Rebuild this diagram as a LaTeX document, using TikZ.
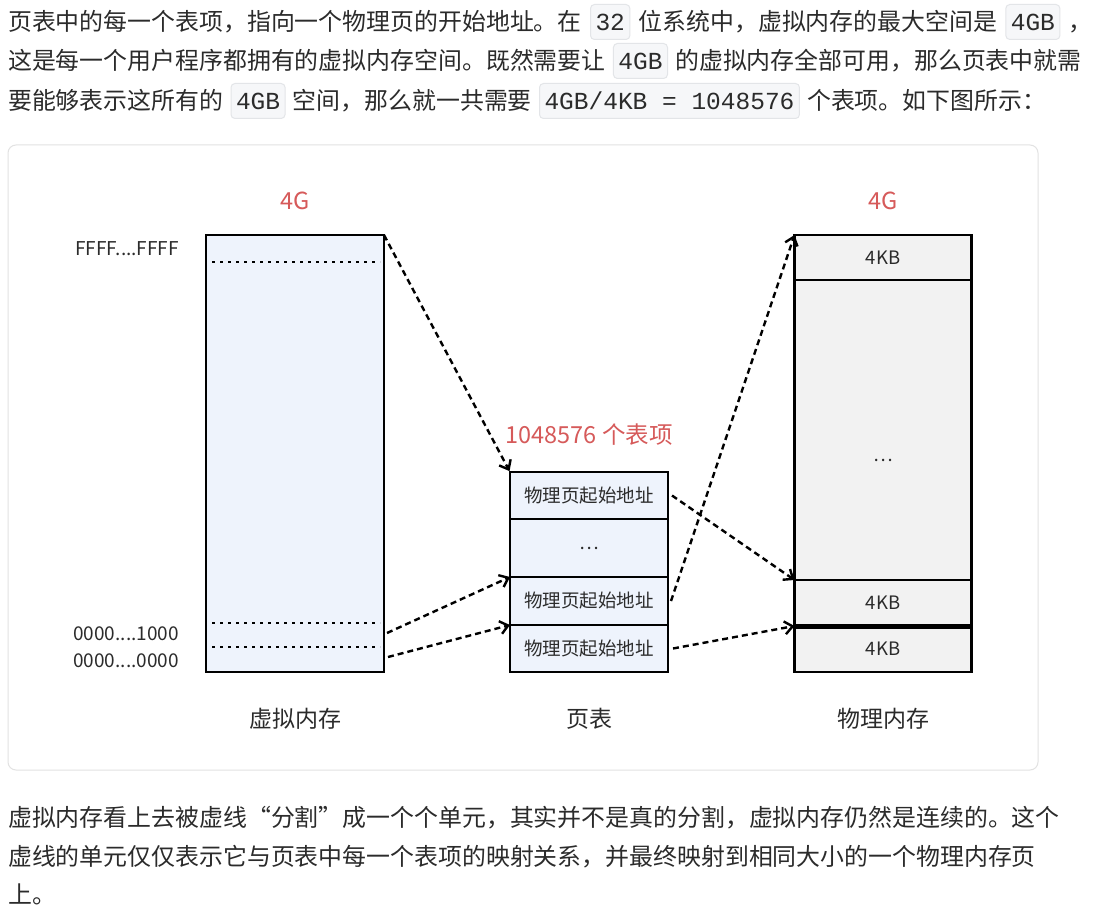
\documentclass[tikz,border=0pt]{standalone}
\usepackage{fontspec}
\usetikzlibrary{positioning,calc,arrows.meta}
\newfontfamily\cjk{Noto Sans CJK SC}
\newfontfamily\codefont{Liberation Mono}
\definecolor{bodytext}{HTML}{2B2B2B}
\definecolor{codebg}{HTML}{F6F7F9}
\definecolor{codeline}{HTML}{E3E5E8}
\definecolor{framegray}{HTML}{E2E2E2}
\definecolor{vfill}{HTML}{EEF3FC}
\definecolor{pfill}{HTML}{F2F2F2}
\definecolor{labelred}{HTML}{D65A5A}

\begin{document}
\begin{tikzpicture}[x=1pt,y=-1pt,>={Straight Barb[length=8pt,width=13pt]},
  txt/.style={anchor=base west,inner sep=0pt,text=bodytext,font=\cjk\fontsize{23.9}{28}\selectfont},
  code/.style={fill=codebg,draw=codeline,line width=1pt,rounded corners=4pt,inner xsep=5pt,inner ysep=6.5pt,
    text height=20pt,text depth=2pt,text=bodytext,font=\codefont\fontsize{24.5}{28}\selectfont},
  cell/.style={draw=black,line width=2.8pt,outer sep=0pt,inner sep=0pt,text=bodytext,font=\cjk\fontsize{18.5}{22}\selectfont},
  ptcell/.style={cell,fill=vfill,minimum width=158pt},
  pmcell/.style={cell,fill=pfill,minimum width=177pt},
  redlbl/.style={text=labelred,font=\cjk\fontsize{23.5}{28}\selectfont},
  caption/.style={text=bodytext,font=\cjk\fontsize{23}{28}\selectfont},
  addr/.style={anchor=east,inner sep=0pt,text=bodytext,font=\cjk\fontsize{19}{22}\selectfont},
  arr/.style={->,line width=2.4pt,dash pattern=on 6pt off 4pt},
  dots/.style={line width=2.5pt,dash pattern=on 2.5pt off 5.5pt}]
\fill[white] (0,0) rectangle (1095,909);
\useasboundingbox (0,0) rectangle (1095,909);

% text above
\node[txt] (LineA1) at (8,31) {页表中的每一个表项，指向一个物理页的开始地址。在};
\node[code,base right=8pt of LineA1] (CodeA1) {32};
\node[txt,base right=8pt of CodeA1] (LineA2) {位系统中，虚拟内存的最大空间是};
\node[code,base right=8pt of LineA2] (CodeA2) {4GB};
\node[txt,base right=8pt of CodeA2] (LineA3) {，};
\node[txt] (LineB1) at (8,70) {这是每一个用户程序都拥有的虚拟内存空间。既然需要让};
\node[code,base right=7pt of LineB1] (CodeB1) {4GB};
\node[txt,base right=7pt of CodeB1] (LineB2) {的虚拟内存全部可用，那么页表中就需};
\node[txt] (LineC1) at (8,110) {要能够表示这所有的};
\node[code,base right=7pt of LineC1] (CodeC1) {4GB};
\node[txt,base right=7pt of CodeC1] (LineC2) {空间，那么就一共需要};
\node[code,base right=7pt of LineC2] (CodeC2) {4GB/4KB = 1048576};
\node[txt,base right=7pt of CodeC2] (LineC3) {个表项。如下图所示：};

% figure
\draw[framegray,line width=1pt,rounded corners=8pt] (8,145) rectangle (1038,770);

\node[cell,fill=vfill,minimum width=178pt,minimum height=437pt] (VMem) at (295,453.5) {};
\draw[dots] ($(VMem.north west)+(6,27)$) -- ($(VMem.north east)+(-4,27)$);
\draw[dots] ($(VMem.south west)+(6,-49)$) -- ($(VMem.south east)+(-4,-49)$);
\draw[dots] ($(VMem.south west)+(6,-25)$) -- ($(VMem.south east)+(-4,-25)$);
\node[addr] (AddrTop) at (179,249) {FFFF....FFFF};
\node[addr] (AddrOne) at (179,634) {0000....1000};
\node[addr] (AddrZero) at (179,661) {0000....0000};

\node[ptcell,minimum height=47pt] (PT1) at (589,495.5) {物理页起始地址};
\node[ptcell,minimum height=58pt,below=0pt of PT1] (PT2) {…};
\node[ptcell,minimum height=48pt,below=0pt of PT2] (PT3) {物理页起始地址};
\node[ptcell,minimum height=47pt,below=0pt of PT3] (PT4) {物理页起始地址};

\node[pmcell,minimum height=45pt] (PM1) at (883,257.5) {4KB};
\node[pmcell,minimum height=300pt,below=0pt of PM1] (PM2) {};
\node[pmcell,minimum height=46pt,below=0pt of PM2] (PM3) {4KB};
\node[pmcell,minimum height=46pt,below=0pt of PM3] (PM4) {4KB};
\draw[line width=5pt] (PM3.south west) -- (PM3.south east);
\node[cell,draw=none] (PMDots) at ($(PM2.center)+(0,30)$) {…};

\node[redlbl] (VTitle) at (295,201) {4G};
\node[redlbl] (PTTitle) at (589,435) {1048576 个表项};
\node[redlbl] (PTitle) at (883,201) {4G};
\node[caption] (VName) at (295,719) {虚拟内存};
\node[caption] (PTName) at (589,719) {页表};
\node[caption] (PName) at (883,719) {物理内存};

\coordinate (VSrcA) at ($(VMem.south east)+(3,-39)$);
\coordinate (VSrcB) at ($(VMem.south east)+(4,-15)$);
\draw[arr,shorten >=1pt] (VMem.north east) -- (PT1.north west);
\draw[arr] (VSrcA) -- (PT3.north west);
\draw[arr] (VSrcB) -- (PT4.north west);
\draw[arr] ([xshift=4pt]PT1.east) -- (PM3.north west);
\draw[arr] ([xshift=3pt]PT3.east) -- (PM1.north west);
\draw[arr] ([xshift=5pt]PT4.east) -- (PM4.north west);

% text below
\node[txt] (LineD1) at (8,826) {虚拟内存看上去被虚线“分割”成一个个单元，其实并不是真的分割，虚拟内存仍然是连续的。这个};
\node[txt] (LineE1) at (8,865) {虚线的单元仅仅表示它与页表中每一个表项的映射关系，并最终映射到相同大小的一个物理内存页};
\node[txt] (LineF1) at (8,903) {上。};
\end{tikzpicture}
\end{document}
